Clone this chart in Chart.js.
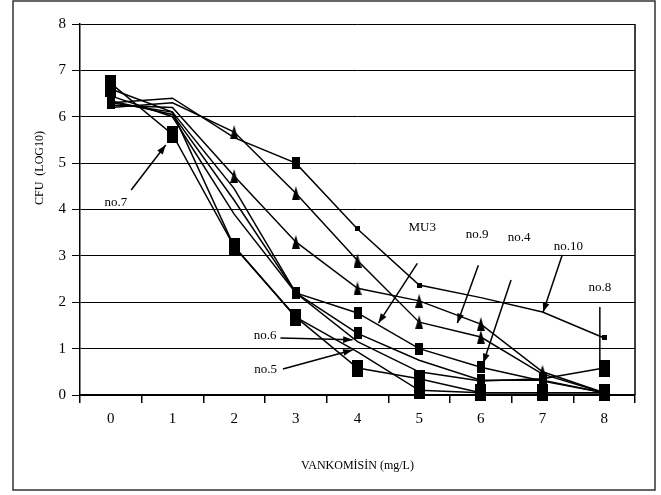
<!DOCTYPE html>
<html>
<head>
<meta charset="utf-8">
<script src="https://cdn.jsdelivr.net/npm/chart.js@4.4.1/dist/chart.umd.min.js"></script>
<style>
body { margin: 0; background: #fff; }
</style>
</head>
<body>
<canvas id="cfu-chart" width="661" height="495"></canvas>
<script>
// vankomisin dozu (mg/L)
const doses = ["0", "1", "2", "3", "4", "5", "6", "7", "8"];

// CFU (log10) her suş için
const no10 = [6.30, 6.40, 5.55, 5.00, 3.58, 2.37, 2.10, 1.79, 1.23];
const no9 = [6.20, 6.30, 5.67, 4.35, 2.90, 1.57, 1.25, 0.45, 0.05];
const no4 = [6.25, 6.20, 4.72, 3.30, 2.30, 2.03, 1.53, 0.50, 0.05];
const mu3 = [6.30, 6.10, 4.45, 2.20, 1.77, 1.00, 0.60, 0.30, 0.05];
const no6 = [6.34, 6.05, 4.20, 2.20, 1.33, 0.75, 0.32, 0.32, 0.05];
const no8 = [6.45, 6.00, 3.90, 2.20, 1.15, 0.50, 0.30, 0.35, 0.58];
const no5 = [6.60, 6.10, 3.20, 1.68, 0.93, 0.10, 0.05, 0.05, 0.05];
const no7 = [6.72, 5.62, 3.20, 1.68, 0.58, 0.35, 0.05, 0.05, 0.05];

// oklar ve etiketler (x: doz sırası, y: log10)
const callouts = [
    { text: "no.7", at: [0.08, 4.14], from: [0.33, 4.42], to: [0.89, 5.39], head: true },
    { text: "MU3", at: [5.05, 3.60], from: [4.97, 2.84], to: [4.34, 1.55], head: true },
    { text: "no.9", at: [5.94, 3.45], from: [5.96, 2.80], to: [5.62, 1.55], head: true },
    { text: "no.4", at: [6.62, 3.40], from: [6.49, 2.48], to: [6.04, 0.69], head: true },
    { text: "no.10", at: [7.42, 3.21], from: [7.32, 3.02], to: [7.01, 1.79], head: true },
    { text: "no.8", at: [7.93, 2.31], from: [7.93, 1.90], to: [7.93, 0.75], head: false },
    { text: "no.6", at: [2.50, 1.29], from: [2.75, 1.23], to: [3.92, 1.19], head: true },
    { text: "no.5", at: [2.51, 0.54], from: [2.79, 0.56], to: [3.92, 0.97], head: true }
];

const FONT = "Liberation Serif";

function marker(w, h, shape) {
    const c = document.createElement("canvas");
    c.width = w;
    c.height = h;
    const g = c.getContext("2d");
    g.fillStyle = "#000";
    if (shape === "tri") {
        g.beginPath();
        g.moveTo(w / 2, 0);
        g.lineTo(w, h);
        g.lineTo(0, h);
        g.closePath();
        g.fill();
    } else {
        g.fillRect(0, 0, w, h);
    }
    return c;
}

const bigSquare = marker(11, 17, "rect");
const midSquare = marker(8, 12, "rect");
const smallSquare = marker(5, 5, "rect");
const triangle = marker(8, 14, "tri");

function strain(label, data, style, hidden) {
    return {
        label: label,
        data: data,
        borderColor: "#000",
        borderWidth: 1.5,
        tension: 0,
        fill: false,
        clip: false,
        pointStyle: style,
        pointRadius: (ctx) => hidden.includes(ctx.dataIndex) ? 0 : 5,
        pointHoverRadius: 5
    };
}

const callout = {
    id: "callout",
    beforeDraw(chart) {
        const ctx = chart.ctx;
        ctx.save();
        ctx.fillStyle = "#fff";
        ctx.fillRect(0, 0, chart.width, chart.height);
        ctx.restore();
    },
    afterDraw(chart) {
        const ctx = chart.ctx;
        const x = chart.scales.x;
        const y = chart.scales.y;
        const x0 = x.getPixelForValue(0);
        const step = x.getPixelForValue(1) - x0;
        const px = (v) => x0 + v * step;
        const py = (v) => y.getPixelForValue(v);
        const area = chart.chartArea;

        ctx.save();
        // dış çerçeve
        ctx.strokeStyle = "#333";
        ctx.lineWidth = 1.5;
        ctx.strokeRect(13, 1, 642, 489);
        // sağ kenar
        ctx.strokeStyle = "#000";
        ctx.lineWidth = 1.5;
        ctx.beginPath();
        ctx.moveTo(area.right, area.top);
        ctx.lineTo(area.right, area.bottom);
        ctx.stroke();

        // y ekseni başlığı
        ctx.fillStyle = "#000";
        ctx.font = "12px '" + FONT + "'";
        ctx.textAlign = "center";
        ctx.textBaseline = "middle";
        ctx.save();
        ctx.translate(40, 168);
        ctx.rotate(-Math.PI / 2);
        ctx.fillText("CFU  (LOG10)", 0, 0);
        ctx.restore();

        ctx.font = "13px '" + FONT + "'";
        callouts.forEach((c) => {
            ctx.fillText(c.text, px(c.at[0]), py(c.at[1]));
            const ax = px(c.from[0]), ay = py(c.from[1]);
            const bx = px(c.to[0]), by = py(c.to[1]);
            ctx.lineWidth = 1.5;
            ctx.beginPath();
            ctx.moveTo(ax, ay);
            ctx.lineTo(bx, by);
            ctx.stroke();
            if (c.head) {
                const a = Math.atan2(by - ay, bx - ax);
                ctx.beginPath();
                ctx.moveTo(bx, by);
                ctx.lineTo(bx - 10 * Math.cos(a - 0.35), by - 10 * Math.sin(a - 0.35));
                ctx.lineTo(bx - 10 * Math.cos(a + 0.35), by - 10 * Math.sin(a + 0.35));
                ctx.closePath();
                ctx.fill();
            }
        });
        ctx.restore();
    }
};

const cfuChart = new Chart(document.getElementById("cfu-chart"), {
    type: "line",
    data: {
        labels: doses,
        datasets: [
            strain("no.10", no10, (ctx) => ctx.dataIndex === 3 ? midSquare : smallSquare, [1, 2, 6, 7]),
            strain("no.9", no9, triangle, [0, 1]),
            strain("no.4", no4, triangle, [0, 1]),
            strain("MU3", mu3, midSquare, [1, 2]),
            strain("no.6", no6, midSquare, [1, 2, 5]),
            strain("no.8", no8, (ctx) => ctx.dataIndex === 8 ? bigSquare : midSquare, [0, 1, 2, 4, 5]),
            strain("no.5", no5, bigSquare, [1, 2, 4]),
            strain("no.7", no7, bigSquare, [])
        ]
    },
    options: {
        responsive: false,
        animation: false,
        events: [],
        layout: {
            padding: { left: 0, right: 26, top: 24, bottom: 0 }
        },
        scales: {
            x: {
                type: "category",
                offset: true,
                afterFit: (scale) => { scale.height = 100; },
                grid: {
                    offset: true,
                    drawOnChartArea: false,
                    drawTicks: true,
                    tickLength: 8,
                    color: "#000",
                    lineWidth: 1.5
                },
                border: { color: "#000", width: 1.5 },
                ticks: {
                    color: "#000",
                    padding: 7,
                    font: { family: FONT, size: 15 }
                },
                title: {
                    display: true,
                    text: "VANKOMİSİN (mg/L)",
                    color: "#000",
                    font: { family: FONT, size: 12 },
                    padding: { top: 0, bottom: 22 }
                }
            },
            y: {
                min: 0,
                max: 8,
                afterFit: (scale) => { scale.width = 80; },
                grid: {
                    color: "#000",
                    lineWidth: 1,
                    tickLength: 8
                },
                border: { color: "#000", width: 1.5 },
                ticks: {
                    stepSize: 1,
                    color: "#000",
                    padding: 6,
                    font: { family: FONT, size: 15 }
                }
            }
        },
        plugins: {
            legend: { display: false },
            tooltip: { enabled: false }
        }
    },
    plugins: [callout]
});
</script>
</body>
</html>
